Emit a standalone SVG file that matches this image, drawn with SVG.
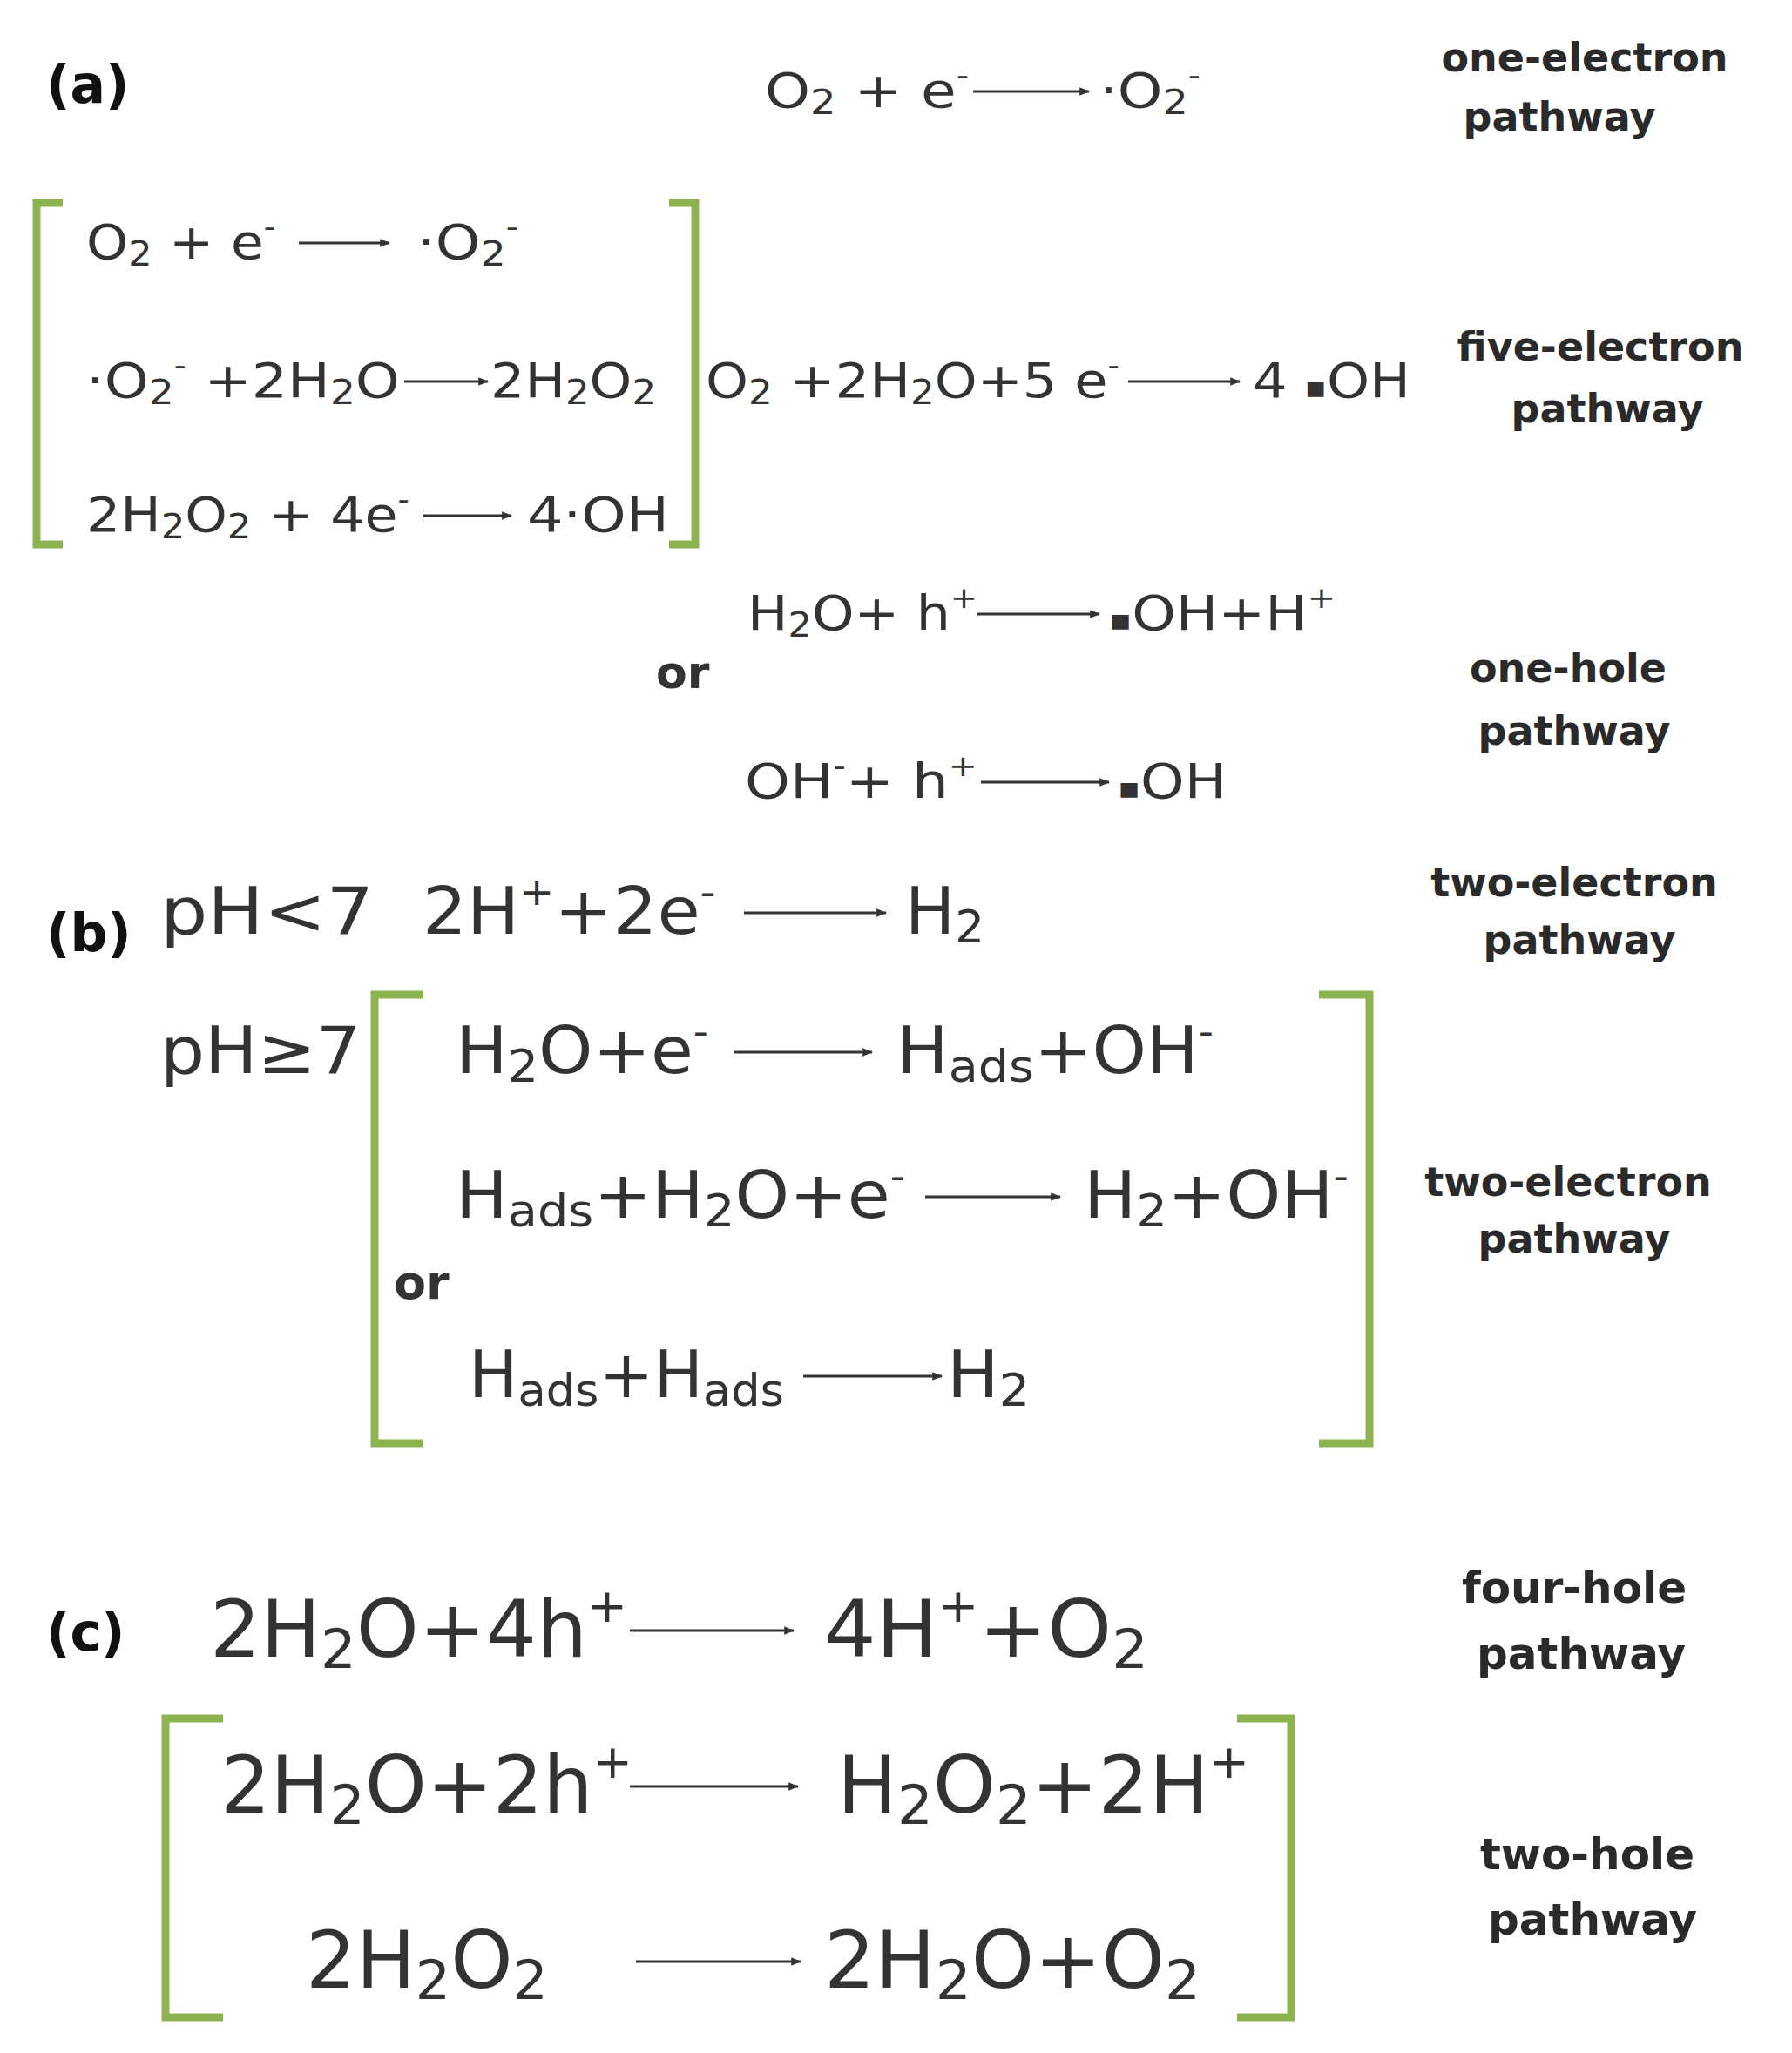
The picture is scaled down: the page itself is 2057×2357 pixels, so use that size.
<svg xmlns="http://www.w3.org/2000/svg" width="2057" height="2357" viewBox="0 0 2057 2357">
<defs>
<marker id="ah" viewBox="0 0 10 10" refX="9" refY="5" markerWidth="4" markerHeight="4" orient="auto"><path d="M0,1 L10,5 L0,9 Z" fill="#333"/></marker>
<style>
.eq{font-family:"DejaVu Sans",Verdana,sans-serif;fill:#333}
.s{font-size:56px}.m{font-size:74px}.l{font-size:90px}
.lab{font-family:"DejaVu Sans",Verdana,sans-serif;font-weight:bold;fill:#2a2a2a;font-size:46px;text-anchor:middle}
.tag{font-family:"DejaVu Sans",Verdana,sans-serif;font-weight:bold;fill:#111;font-size:60px}
.br{fill:none;stroke:#8db350;stroke-width:9}
.ar{stroke:#333;stroke-width:3;fill:none;marker-end:url(#ah)}
.b{baseline-shift:-0.2em;font-size:70%}.p{baseline-shift:0.75em;font-size:60%}.d{font-size:60%}
</style>
</defs>
<g id="brackets">
<path class="br" d="M72,233 H42 V625 H72"/><path class="br" d="M768,233 H798 V625 H768"/>
<path class="br" d="M486,1142 H430 V1657 H486"/><path class="br" d="M1514,1142 H1572 V1657 H1514"/>
<path class="br" d="M256,1973 H190 V2316 H256"/><path class="br" d="M1420,1973 H1482 V2316 H1420"/>
</g>
<g id="connectors">
<line class="ar" x1="1117" y1="105" x2="1250" y2="105"/>
<line class="ar" x1="343" y1="279" x2="447" y2="279"/>
<line class="ar" x1="464" y1="438" x2="560" y2="438"/>
<line class="ar" x1="485" y1="592" x2="587" y2="592"/>
<line class="ar" x1="1295" y1="438" x2="1423" y2="438"/>
<line class="ar" x1="1122" y1="705" x2="1262" y2="705"/>
<line class="ar" x1="1126" y1="898" x2="1273" y2="898"/>
<line class="ar" x1="854" y1="1048" x2="1017" y2="1048"/>
<line class="ar" x1="843" y1="1208" x2="1001" y2="1208"/>
<line class="ar" x1="1062" y1="1374" x2="1217" y2="1374"/>
<line class="ar" x1="922" y1="1580" x2="1081" y2="1580"/>
<line class="ar" x1="723" y1="1872" x2="911" y2="1872"/>
<line class="ar" x1="723" y1="2051" x2="916" y2="2051"/>
<line class="ar" x1="730" y1="2252" x2="919" y2="2252"/>
</g>
<g id="panel-a">
<text class="tag" x="53" y="118">(a)</text>
<text class="eq s" x="878" y="123" textLength="234" lengthAdjust="spacingAndGlyphs">O<tspan class="b">2</tspan> + e<tspan class="p">-</tspan></text>
<text class="eq s" x="1262" y="123" textLength="116" lengthAdjust="spacingAndGlyphs">·O<tspan class="b">2</tspan><tspan class="p">-</tspan></text>
<text class="lab" x="1819" y="82">one-electron</text><text class="lab" x="1790" y="150">pathway</text>
<text class="eq s" x="99" y="297" textLength="217" lengthAdjust="spacingAndGlyphs">O<tspan class="b">2</tspan> + e<tspan class="p">-</tspan></text>
<text class="eq s" x="479" y="297" textLength="116" lengthAdjust="spacingAndGlyphs">·O<tspan class="b">2</tspan><tspan class="p">-</tspan></text>
<text class="eq s" x="99" y="456" textLength="360" lengthAdjust="spacingAndGlyphs">·O<tspan class="b">2</tspan><tspan class="p">-</tspan> +2H<tspan class="b">2</tspan>O</text>
<text class="eq s" x="563" y="456" textLength="190" lengthAdjust="spacingAndGlyphs">2H<tspan class="b">2</tspan>O<tspan class="b">2</tspan></text>
<text class="eq s" x="99" y="610" textLength="371" lengthAdjust="spacingAndGlyphs">2H<tspan class="b">2</tspan>O<tspan class="b">2</tspan> + 4e<tspan class="p">-</tspan></text>
<text class="eq s" x="605" y="610" textLength="163" lengthAdjust="spacingAndGlyphs">4·OH</text>
<text class="eq s" x="810" y="456" textLength="475" lengthAdjust="spacingAndGlyphs">O<tspan class="b">2</tspan> +2H<tspan class="b">2</tspan>O+5 e<tspan class="p">-</tspan></text>
<text class="eq s" x="1438" y="456" textLength="181" lengthAdjust="spacingAndGlyphs">4 <tspan class="d">▪</tspan>OH</text>
<text class="lab" x="1837" y="414">five-electron</text><text class="lab" x="1845" y="485">pathway</text>
<text class="eq s" x="858" y="723" textLength="264" lengthAdjust="spacingAndGlyphs">H<tspan class="b">2</tspan>O+ h<tspan class="p">+</tspan></text>
<text class="eq s" x="1273" y="723" textLength="260" lengthAdjust="spacingAndGlyphs"><tspan class="d">▪</tspan>OH+H<tspan class="p">+</tspan></text>
<text class="tag" x="753" y="790" style="font-size:52px;fill:#333">or</text>
<text class="eq s" x="855" y="916" textLength="267" lengthAdjust="spacingAndGlyphs">OH<tspan class="p">-</tspan>+ h<tspan class="p">+</tspan></text>
<text class="eq s" x="1283" y="916" textLength="125" lengthAdjust="spacingAndGlyphs"><tspan class="d">▪</tspan>OH</text>
<text class="lab" x="1800" y="783">one-hole</text><text class="lab" x="1807" y="855">pathway</text>
</g>
<g id="panel-b">
<text class="tag" x="53" y="1092">(b)</text>
<text class="eq m" x="184" y="1072" textLength="245" lengthAdjust="spacingAndGlyphs">pH&lt;7</text>
<text class="eq m" x="485" y="1072" textLength="336" lengthAdjust="spacingAndGlyphs">2H<tspan class="p">+</tspan>+2e<tspan class="p">-</tspan></text>
<text class="eq m" x="1039" y="1072" textLength="91" lengthAdjust="spacingAndGlyphs">H<tspan class="b">2</tspan></text>
<text class="lab" x="1807" y="1029">two-electron</text><text class="lab" x="1813" y="1095">pathway</text>
<text class="eq m" x="184" y="1232" textLength="230" lengthAdjust="spacingAndGlyphs">pH≥7</text>
<text class="eq m" x="523" y="1232" textLength="290" lengthAdjust="spacingAndGlyphs">H<tspan class="b">2</tspan>O+e<tspan class="p">-</tspan></text>
<text class="eq m" x="1029" y="1232" textLength="364" lengthAdjust="spacingAndGlyphs">H<tspan class="b">ads</tspan>+OH<tspan class="p">-</tspan></text>
<text class="eq m" x="523" y="1398" textLength="516" lengthAdjust="spacingAndGlyphs">H<tspan class="b">ads</tspan>+H<tspan class="b">2</tspan>O+e<tspan class="p">-</tspan></text>
<text class="eq m" x="1244" y="1398" textLength="304" lengthAdjust="spacingAndGlyphs">H<tspan class="b">2</tspan>+OH<tspan class="p">-</tspan></text>
<text class="tag" x="452" y="1491" style="font-size:54px;fill:#333">or</text>
<text class="eq m" x="538" y="1604" textLength="362" lengthAdjust="spacingAndGlyphs">H<tspan class="b">ads</tspan>+H<tspan class="b">ads</tspan></text>
<text class="eq m" x="1087" y="1604" textLength="95" lengthAdjust="spacingAndGlyphs">H<tspan class="b">2</tspan></text>
<text class="lab" x="1800" y="1373">two-electron</text><text class="lab" x="1807" y="1438">pathway</text>
</g>
<g id="panel-c">
<text class="tag" x="53" y="1895">(c)</text>
<text class="eq l" x="241" y="1902" textLength="479" lengthAdjust="spacingAndGlyphs">2H<tspan class="b">2</tspan>O+4h<tspan class="p">+</tspan></text>
<text class="eq l" x="946" y="1902" textLength="372" lengthAdjust="spacingAndGlyphs">4H<tspan class="p">+</tspan>+O<tspan class="b">2</tspan></text>
<text class="lab" x="1807" y="1840" style="font-size:50px">four-hole</text><text class="lab" x="1815" y="1916" style="font-size:50px">pathway</text>
<text class="eq l" x="253" y="2081" textLength="473" lengthAdjust="spacingAndGlyphs">2H<tspan class="b">2</tspan>O+2h<tspan class="p">+</tspan></text>
<text class="eq l" x="961" y="2081" textLength="473" lengthAdjust="spacingAndGlyphs">H<tspan class="b">2</tspan>O<tspan class="b">2</tspan>+2H<tspan class="p">+</tspan></text>
<text class="eq l" x="351" y="2282" textLength="278" lengthAdjust="spacingAndGlyphs">2H<tspan class="b">2</tspan>O<tspan class="b">2</tspan></text>
<text class="eq l" x="946" y="2282" textLength="432" lengthAdjust="spacingAndGlyphs">2H<tspan class="b">2</tspan>O+O<tspan class="b">2</tspan></text>
<text class="lab" x="1822" y="2146" style="font-size:50px">two-hole</text><text class="lab" x="1828" y="2221" style="font-size:50px">pathway</text>
</g>
</svg>
